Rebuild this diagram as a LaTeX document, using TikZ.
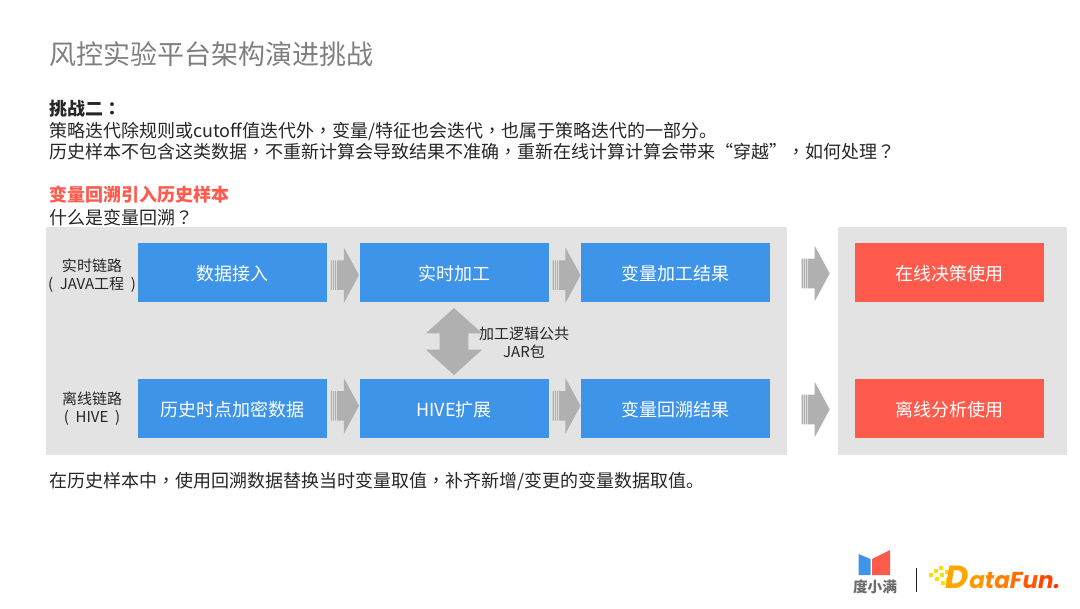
\documentclass[tikz,border=0pt]{standalone}
\usepackage{fontspec}
\setmainfont{Noto Sans CJK SC}
\newfontfamily\logofont{Poppins}
\newfontfamily\punctfont{Noto Sans CJK TC}
\newcommand{\zp}[1]{{\punctfont #1}}
\usetikzlibrary{arrows.meta,positioning,shapes.arrows}
\definecolor{panelgray}{HTML}{E3E3E3}
\definecolor{arrowgray}{HTML}{B0B0B0}
\definecolor{boxblue}{HTML}{3D94E8}
\definecolor{boxred}{HTML}{FF5B4D}
\definecolor{titlegray}{HTML}{7F7F7F}
\definecolor{inkdark}{HTML}{262626}
\begin{document}
\begin{tikzpicture}[x=.75pt, y=-.75pt, node distance=24pt,
  every node/.style={inner sep=0pt, text=inkdark},
  panel/.style={fill=panelgray, anchor=north west},
  bluebox/.style={fill=boxblue, text=white, text height=13.7pt, text depth=2pt, minimum width=141.75pt, minimum height=44.25pt, font=\fontsize{13.5pt}{16pt}\selectfont},
  redbox/.style={bluebox, fill=boxred},
  sidelabel/.style={align=center, font=\fontsize{11.25pt}{13.5pt}\selectfont},
  bodytext/.style={anchor=west, font=\fontsize{13.5pt}{16pt}\selectfont},
  blockarrow/.style={single arrow, fill=arrowgray, anchor=tip, inner ysep=10.9pt, minimum height=21pt, minimum width=41.25pt, single arrow head extend=9.75pt, single arrow tip angle=123},
  stripe/.style={white, opacity=.55, line width=.5pt}]
\useasboundingbox (0,0) rectangle (1080,608);
\node (title) [anchor=west, text=titlegray, font=\fontsize{20.25pt}{24pt}\selectfont] at (49,54) {风控实验平台架构演进挑战};
\node (head) [bodytext, font=\fontsize{13.5pt}{16pt}\selectfont\bfseries] at (49,109) {挑战二\zp{：}};
\node (lineA) [bodytext] at (49,131) {策略迭代除规则或cutoff值迭代外\zp{，}变量/特征也会迭代\zp{，}也属于策略迭代的一部分。};
\node (lineB) [bodytext] at (49,152) {历史样本不包含这类数据\zp{，}不重新计算会导致结果不准确\zp{，}重新在线计算计算会带来“穿越”\zp{，}如何处理\zp{？}};
\node (sub) [bodytext, text=boxred, font=\fontsize{13.5pt}{16pt}\selectfont\bfseries] at (49,195) {变量回溯引入历史样本};
\node (ask) [bodytext] at (49,218) {什么是变量回溯\zp{？}};
\node (left) [panel, minimum width=555.75pt, minimum height=171pt] at (46,227) {};
\node (right) [panel, minimum width=171.75pt, minimum height=171pt] at (838,227) {};
% realtime row
\node (input) [bluebox] at (232.5,272.5) {数据接入};
\node (rtproc) [bluebox, right=of input] {实时加工};
\node (rtres) [bluebox, right=of rtproc] {变量加工结果};
\node (online) [redbox] at (949.5,272.5) {在线决策使用};
% offline row
\node (hist) [bluebox] at (232.5,408.5) {历史时点加密数据};
\node (hive) [bluebox, right=of hist] {HIVE扩展};
\node (offres) [bluebox, right=of hive] {变量回溯结果};
\node (offline) [redbox] at (949.5,408.5) {离线分析使用};
\node (rtlabel) [sidelabel] at (92,276) {实时链路\\(\hspace{5pt}JAVA工程\hspace{5pt})};
\node (offlabel) [sidelabel] at (92,409) {离线链路\\(\hspace{5pt}HIVE\hspace{5pt})};
% block arrows
\node (a1) [blockarrow, yshift=-2pt] at (rtproc.west) {};
\node (a2) [blockarrow, yshift=-2pt] at (rtres.west) {};
\node (a3) [blockarrow, yshift=-.75pt] at (830,272.5) {};
\node (b1) [blockarrow, yshift=2pt] at (hive.west) {};
\node (b2) [blockarrow, yshift=2pt] at (offres.west) {};
\node (b3) [blockarrow, yshift=-.75pt] at (830,408.5) {};
\foreach \n in {a1,a2,a3,b1,b2,b3} \foreach \d in {1.2,2.7,4.2} \draw[stripe] ([xshift=\d pt]\n.before tail) -- ([xshift=\d pt]\n.after tail);
\node (share) [double arrow, shape border rotate=90, fill=arrowgray, inner xsep=10.5pt, minimum height=50.25pt, minimum width=42pt, double arrow head extend=10.5pt, double arrow tip angle=96] at (454,341.5) {};
\node (jar) [sidelabel] at (524,343) {加工逻辑公共\\JAR包};
\node (note) [bodytext] at (49,481) {在历史样本中\zp{，}使用回溯数据替换当时变量取值\zp{，}补齐新增/变更的变量数据取值。};
% logos
\fill[boxblue] (858.5,554) -- (870.5,559) -- (870.5,575) -- (858.5,575) -- cycle;
\fill[boxred] (872,559) -- (890,550) -- (890,575) -- (872,575) -- cycle;
\node (dxm) [font=\fontsize{11pt}{13pt}\selectfont\bfseries, text=titlegray!85!black] at (875,587) {度小满};
\draw[line width=1.1pt, inkdark] (916.5,568) -- (916.5,592);
\foreach \x/\y in {931/575,936/571,941/568,937/579,942/575,947/572,943/583,948/580,949/586} \fill[yellow!80!orange] (\x-1.8,\y-1.8) rectangle (\x+1.8,\y+1.8);
\node (logoD) [anchor=base west, text=orange!70!yellow, font=\logofont\fontsize{24pt}{24pt}\selectfont\bfseries\itshape] at (945,588) {D};
\node (logoA) [anchor=base west, font=\logofont\fontsize{17.3pt}{18pt}\selectfont\bfseries\itshape] at (969,588) {\textcolor{orange!80!yellow}{a}\textcolor{orange!95!yellow}{t}\textcolor{orange}{a}\textcolor{orange!85!red}{F}\textcolor{orange!70!red}{u}\textcolor{orange!55!red}{n}\textcolor{orange!40!red}{.}};
\end{tikzpicture}
\end{document}
